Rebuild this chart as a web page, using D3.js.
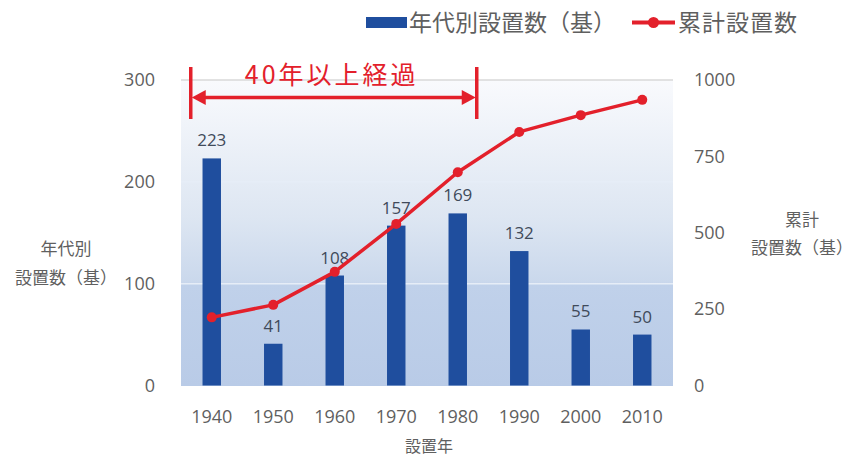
<!DOCTYPE html>
<html>
<head>
<meta charset="utf-8">
<script src="https://cdn.jsdelivr.net/npm/d3@7"></script>
<style>
  html, body { margin: 0; padding: 0; background: #ffffff; }
  svg { display: block; }
  text { font-family: "Noto Sans CJK JP", "Noto Sans", sans-serif; }
</style>
</head>
<body>
<svg id="chart" width="855" height="458"></svg>
<script>
// Decade of installation
const years = ["1940", "1950", "1960", "1970", "1980", "1990", "2000", "2010"];
// Installations per decade (bars, left axis)
const perDecade = [223, 41, 108, 157, 169, 132, 55, 50];
// Cumulative installations (line, right axis)
const cumulative = [223, 264, 372, 529, 698, 830, 885, 935];
// Axis ticks
const leftTicks = [0, 100, 200, 300];
const rightTicks = [0, 250, 500, 750, 1000];
// Span marked by the bracket annotation
const spanYears = ["1940", "1980"];

const svg = d3.select("#chart");
const W = 855, H = 458;
const m = { left: 181, right: 182, top: 80, bottom: 72 };
const x0 = m.left, x1 = W - m.right, y0 = H - m.bottom, y1 = m.top;

const x = d3.scaleBand().domain(years).range([x0, x1]).paddingInner(0.7).paddingOuter(0.35);
const yL = d3.scaleLinear().domain([0, 300]).range([y0 - 0.5, y1]);
const yR = d3.scaleLinear().domain([0, 1000]).range([y0 - 0.5, y1]);

const grey = "#5f5f5f";
const blue = "#1f4e9e";
const red = "#e3202b";
const numFont = "'Open Sans', sans-serif";

// Plot background gradient
const defs = svg.append("defs");
const grad = defs.append("linearGradient").attr("id", "bg").attr("x1", 0).attr("y1", 0).attr("x2", 0).attr("y2", 1);
grad.append("stop").attr("offset", "0%").attr("stop-color", "#f9fafd");
grad.append("stop").attr("offset", "45%").attr("stop-color", "#dde6f2");
grad.append("stop").attr("offset", "66%").attr("stop-color", "#cad8ec");
grad.append("stop").attr("offset", "67%").attr("stop-color", "#c0d1ea");
grad.append("stop").attr("offset", "100%").attr("stop-color", "#b9cbe7");
svg.append("rect")
  .attr("x", x0).attr("y", y1).attr("width", x1 - x0).attr("height", y0 - y1)
  .attr("fill", "url(#bg)");

// Gridlines
svg.append("g").selectAll("line").data(leftTicks.slice(1)).join("line")
  .attr("x1", x0).attr("x2", x1)
  .attr("y1", d => yL(d)).attr("y2", d => yL(d))
  .attr("stroke", d => d === 300 ? "#d9d9d9" : "#e6edf7")
  .attr("stroke-width", 1.5);

// Left axis
const axL = d3.axisLeft(yL).tickValues(leftTicks).tickSize(0).tickPadding(0).tickFormat(d3.format("d"));
const gL = svg.append("g").attr("transform", `translate(${x0 - 26},0)`).call(axL);
gL.select(".domain").remove();
gL.selectAll("text").attr("fill", grey).style("font-size", "18px").style("font-family", numFont);

// Right axis
const axR = d3.axisRight(yR).tickValues(rightTicks).tickSize(0).tickPadding(0).tickFormat(d3.format("d"));
const gR = svg.append("g").attr("transform", `translate(${x1 + 21},0)`).call(axR);
gR.select(".domain").remove();
gR.selectAll("text").attr("fill", grey).style("font-size", "18px").style("font-family", numFont);

// Bottom axis
const axB = d3.axisBottom(x).tickSize(0).tickPadding(0);
const gB = svg.append("g").attr("transform", `translate(0,${y0 + 24})`).call(axB);
gB.select(".domain").remove();
gB.selectAll("text").attr("fill", grey).style("font-size", "18px").style("font-family", numFont);

// Bars
svg.append("g").selectAll("rect").data(years).join("rect")
  .attr("x", d => x(d)).attr("width", x.bandwidth())
  .attr("y", (d, i) => yL(perDecade[i]))
  .attr("height", (d, i) => yL(0) - yL(perDecade[i]))
  .attr("fill", blue);

// Bar value labels
svg.append("g").selectAll("text").data(years).join("text")
  .attr("x", d => x(d) + x.bandwidth() / 2)
  .attr("y", (d, i) => yL(perDecade[i]) - 12)
  .attr("text-anchor", "middle")
  .attr("fill", "#404a5a")
  .style("font-size", "17px")
  .style("font-family", numFont)
  .text((d, i) => perDecade[i]);

// Cumulative line
const cx = d => x(d) + x.bandwidth() / 2;
const line = d3.line().x((d, i) => cx(years[i])).y(d => yR(d));
svg.append("path").datum(cumulative)
  .attr("d", line).attr("fill", "none")
  .attr("stroke", red).attr("stroke-width", 3.5).attr("stroke-linejoin", "round");
svg.append("g").selectAll("circle").data(cumulative).join("circle")
  .attr("cx", (d, i) => cx(years[i])).attr("cy", d => yR(d))
  .attr("r", 5).attr("fill", red);

// Axis titles
const titleStyle = sel => sel.attr("fill", grey).style("font-size", "17px").attr("text-anchor", "middle");
svg.append("text").attr("x", 66).attr("y", 255).text("年代別").call(titleStyle);
svg.append("text").attr("x", 66).attr("y", 284).text("設置数（基）").call(titleStyle);
svg.append("text").attr("x", 802).attr("y", 226).text("累計").call(titleStyle);
svg.append("text").attr("x", 802).attr("y", 254).text("設置数（基）").call(titleStyle);
svg.append("text").attr("x", 429).attr("y", 452).text("設置年").call(titleStyle).style("font-size", "16px");

// Legend
const lg = svg.append("g");
lg.append("rect").attr("x", 366).attr("y", 17).attr("width", 41).attr("height", 11).attr("fill", blue);
lg.append("text").attr("x", 409).attr("y", 31).attr("fill", grey).style("font-size", "23px").text("年代別設置数（基）");
lg.append("line").attr("x1", 632).attr("x2", 675).attr("y1", 22.5).attr("y2", 22.5).attr("stroke", red).attr("stroke-width", 4);
lg.append("circle").attr("cx", 653.5).attr("cy", 22.5).attr("r", 5.5).attr("fill", red);
lg.append("text").attr("x", 678).attr("y", 31).attr("fill", grey).style("font-size", "23px")
  .style("letter-spacing", "1px").text("累計設置数");

// Bracket annotation across the first decades
const bxA = cx(spanYears[0]) - 21;
const bxB = cx(spanYears[1]) + 19;
const ann = svg.append("g");
ann.append("line").attr("x1", bxA).attr("x2", bxA).attr("y1", 67).attr("y2", 119).attr("stroke", red).attr("stroke-width", 3.5);
ann.append("line").attr("x1", bxB).attr("x2", bxB).attr("y1", 67).attr("y2", 119).attr("stroke", red).attr("stroke-width", 3.5);
ann.append("line").attr("x1", bxA + 10).attr("x2", bxB - 10).attr("y1", 97.5).attr("y2", 97.5).attr("stroke", red).attr("stroke-width", 3.5);
ann.append("path").attr("d", `M${bxA + 1},97.5 L${bxA + 15},90 L${bxA + 15},105 Z`).attr("fill", red);
ann.append("path").attr("d", `M${bxB - 1},97.5 L${bxB - 15},90 L${bxB - 15},105 Z`).attr("fill", red);
ann.append("text").attr("x", (bxA + bxB) / 2 - 2).attr("y", 84).attr("text-anchor", "middle")
  .attr("fill", red).style("font-size", "25px").style("letter-spacing", "3px").text("40年以上経過");
</script>
</body>
</html>
